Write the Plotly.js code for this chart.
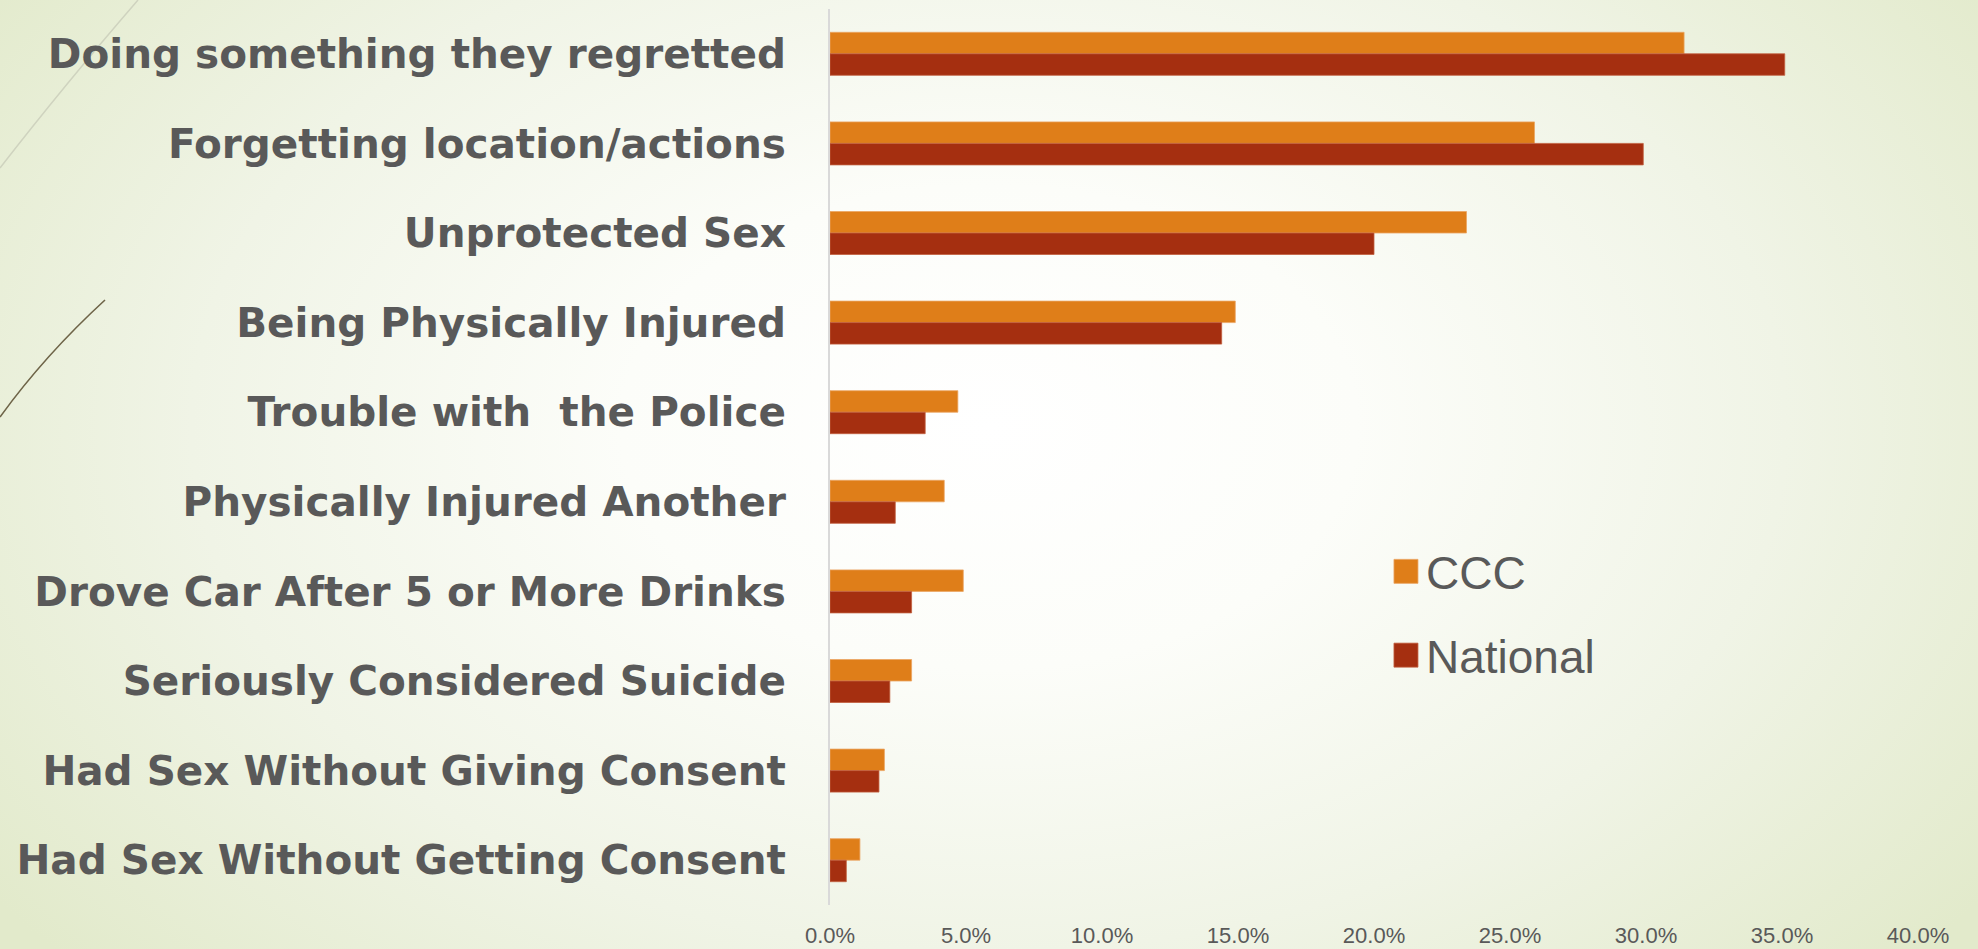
<!DOCTYPE html>
<html>
<head>
<meta charset="utf-8">
<script src="https://cdn.plot.ly/plotly-3.0.1.min.js"></script>
<style>
  html, body { margin: 0; padding: 0; width: 1978px; height: 949px; overflow: hidden; }
  body {
    background: radial-gradient(ellipse 62% 85% at 50% 45%, #ffffff 0%, #fcfdf9 30%, #f0f4e6 65%, #e2eacb 100%);
  }
  #deco { position: absolute; left: 0; top: 0; pointer-events: none; }
  #chart { position: absolute; left: 0; top: 0; width: 1978px; height: 949px; }
</style>
</head>
<body>
<svg id="deco" width="1978" height="949">
  <path d="M0,168 Q62,88 138,0" stroke="#cfd3bf" stroke-width="1.5" fill="none"/>
  <path d="M0,417 Q45,355 105,300" stroke="#6e6448" stroke-width="1.6" fill="none"/>
</svg>
<div id="chart"></div>
<script>
const categories = [
  "Doing something they regretted",
  "Forgetting location/actions",
  "Unprotected Sex",
  "Being Physically Injured",
  "Trouble with\u00a0 the Police",
  "Physically Injured Another",
  "Drove Car After 5 or More Drinks",
  "Seriously Considered Suicide",
  "Had Sex Without Giving Consent",
  "Had Sex Without Getting Consent"
];
const cccValues = [0.314, 0.259, 0.234, 0.149, 0.047, 0.042, 0.049, 0.030, 0.020, 0.011];
const nationalValues = [0.351, 0.299, 0.200, 0.144, 0.035, 0.024, 0.030, 0.022, 0.018, 0.006];
const tickValues = [0, 0.05, 0.10, 0.15, 0.20, 0.25, 0.30, 0.35, 0.40];
const tickLabels = ["0.0%", "5.0%", "10.0%", "15.0%", "20.0%", "25.0%", "30.0%", "35.0%", "40.0%"];

const traces = [
  {
    type: "bar", orientation: "h", name: "CCC",
    y: categories, x: cccValues,
    marker: { color: "#DF7E19", line: { color: "#EBA562", width: 0.8 } },
    legendgroup: "a"
  },
  {
    type: "bar", orientation: "h", name: "National",
    y: categories, x: nationalValues,
    marker: { color: "#A52F10", line: { color: "#C2603F", width: 0.8 } },
    legendgroup: "b"
  }
];

const layout = {
  width: 1978, height: 949,
  margin: { l: 830, r: 60, t: 9, b: 44, pad: 0 },
  paper_bgcolor: "rgba(0,0,0,0)",
  plot_bgcolor: "rgba(0,0,0,0)",
  barmode: "group",
  bargap: 0.52,
  bargroupgap: 0,
  showlegend: true,
  legend: {
    x: 0.511, xanchor: "left",
    y: 0.413, yanchor: "top",
    bgcolor: "rgba(0,0,0,0)",
    font: { family: "Liberation Sans, Arial, sans-serif", size: 46, color: "#595959" },
    traceorder: "grouped",
    tracegroupgap: 21,
    itemclick: false
  },
  xaxis: {
    range: [0, 0.40],
    tickvals: tickValues,
    ticktext: tickLabels,
    showgrid: false, zeroline: false, showline: false,
    ticks: "",
    ticklabelstandoff: 15,
    tickfont: { family: "Liberation Sans, Arial, sans-serif", size: 22, color: "#595959" },
    fixedrange: true
  },
  yaxis: {
    type: "category",
    categoryorder: "array",
    categoryarray: categories,
    autorange: "reversed",
    showgrid: false, zeroline: false,
    showline: true, linecolor: "#d9d9d9", linewidth: 2,
    ticks: "",
    ticklabelstandoff: 34,
    tickfont: { family: "DejaVu Sans, sans-serif", size: 40.5, weight: "bold", color: "#595959" },
    fixedrange: true
  }
};

Plotly.newPlot("chart", traces, layout, { displayModeBar: false, staticPlot: true }).then(function () {
  document.querySelectorAll("#chart .legend .legendpoints path").forEach(function (p) {
    p.setAttribute("d", "M12,12H-12V-12H12Z");
  });
});
</script>
</body>
</html>
